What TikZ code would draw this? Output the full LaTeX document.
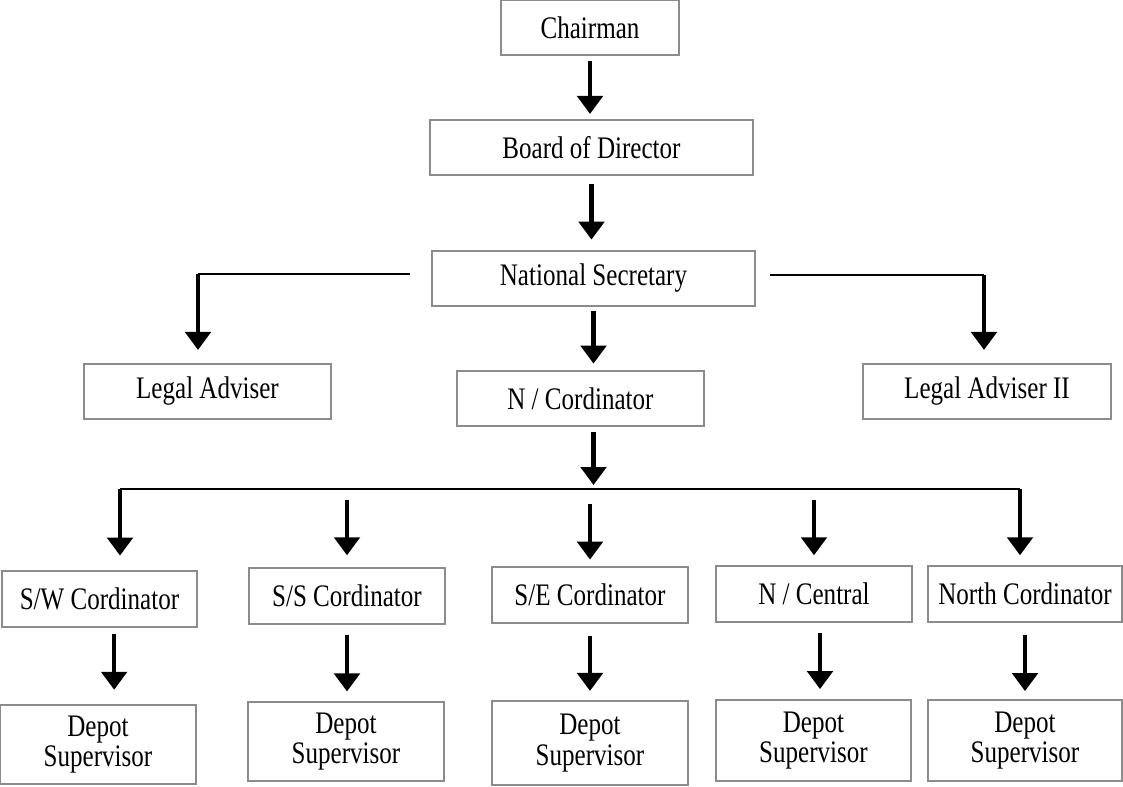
\documentclass[tikz,border=0pt]{standalone}
\usepackage{fontspec}
\setmainfont{Liberation Serif}[FakeStretch=0.8]
\usetikzlibrary{arrows.meta}

\tikzset{
  box/.style={draw=black!45, line width=1.1pt, inner sep=0pt, align=center,
    font=\fontsize{23.5pt}{23pt}\selectfont},
  link/.style={line width=3.2pt, -{Triangle[width=19pt,length=13.5pt]},
    shorten <=6pt, shorten >=7pt},
  wire/.style={line width=1.5pt}
}

\begin{document}
\begin{tikzpicture}[x=0.75pt,y=0.75pt,yscale=-1,xscale=1]
		\useasboundingbox (0,0) rectangle (1123,787);

		% Top of the chart
		\node[box, minimum width=133.5pt, minimum height=41.25pt] (chair) at (590,27.5) {Chairman};
		\node[box, minimum width=242pt, minimum height=41.25pt] (board) at (591.5,147.5) {Board of Director};
		\node[box, minimum width=242pt, minimum height=41.25pt] (natsec) at (593.5,278.5) {National Secretary};

		% Advisers and national coordinator
		\node[box, minimum width=185pt, minimum height=41.25pt] (legal) at (207.5,391.5) {Legal Adviser};
		\node[box, minimum width=185pt, minimum height=41.25pt] (ncord) at (580.5,398.5) {N / Cordinator};
		\node[box, minimum width=186pt, minimum height=41.25pt] (legaltwo) at (987,391.5) {Legal Adviser II};

		% Regional coordinators
		\node[box, minimum width=146pt, minimum height=42pt] (sw) at (99.5,599) {S/W Cordinator};
		\node[box, minimum width=147pt, minimum height=42pt] (ss) at (347,596) {S/S Cordinator};
		\node[box, minimum width=147pt, minimum height=42pt] (se) at (590,595) {S/E Cordinator};
		\node[box, minimum width=147pt, minimum height=42pt] (ncen) at (814,594) {N / Central};
		\node[box, minimum width=145.5pt, minimum height=42pt] (north) at (1025,594) {North Cordinator};

		% Depot supervisors
		\node[box, minimum width=147pt, minimum height=59pt] (swdep) at (98,744.5) {Depot\\Supervisor};
		\node[box, minimum width=147pt, minimum height=59pt] (ssdep) at (346,741.5) {Depot\\Supervisor};
		\node[box, minimum width=147pt, minimum height=63pt] (sedep) at (590,743) {Depot\\Supervisor};
		\node[box, minimum width=146pt, minimum height=61pt] (ncendep) at (813.5,740.5) {Depot\\Supervisor};
		\node[box, minimum width=145.5pt, minimum height=61pt] (northdep) at (1025,740.5) {Depot\\Supervisor};

		% Corners of the branches
		\coordinate (legL) at (198,274);
		\coordinate (legR) at (984,275);
		\coordinate (busL) at (120,489);
		\coordinate (busR) at (1020,489);

		% Main line down the middle
		\draw[link, shorten <=4pt, shorten >=4pt] (chair.south) -- (chair.south |- board.north);
		\draw[link, shorten >=8pt] (board.south) -- (board.south |- natsec.north);
		\draw[link, shorten <=3pt, shorten >=5pt] (natsec.south) -- (natsec.south |- ncord.north);
		\draw[link, shorten <=4pt, shorten >=3pt] (natsec.south |- ncord.south) -- (natsec.south |- busL);

		% Branches to the advisers
		\draw[wire, shorten <=16pt] (natsec.west |- legL) -- (legL);
		\draw[link, shorten <=0pt, shorten >=10pt] (legL) -- (legL |- legal.north);
		\draw[wire, shorten <=10.5pt] (natsec.east |- legR) -- (legR);
		\draw[link, shorten <=0pt, shorten >=10pt] (legR) -- (legR |- legaltwo.north);

		% The bus to the regions
		\draw[wire] (busL) -- (busR);
		\draw[link, shorten <=0pt, shorten >=11pt] (busL) -- (busL |- sw.north);
		\draw[link, shorten <=0pt, shorten >=7.5pt] (busR) -- (busR |- north.north);
		\draw[link, shorten <=8pt, shorten >=9pt] (ss.north |- busL) -- (ss.north);
		\draw[link, shorten <=11pt, shorten >=5pt] (se.north |- busL) -- (se.north);
		\draw[link, shorten <=8pt, shorten >=7.5pt] (ncen.north |- busL) -- (ncen.north);

		% Regions to depots
		\draw[link, shorten <=4.5pt, shorten >=11pt] ([xshift=11pt]sw.south) -- ([xshift=11pt]sw.south |- swdep.north);
		\draw[link, shorten <=8pt, shorten >=7.5pt] (ss.south) -- (ss.south |- ssdep.north);
		\draw[link, shorten <=9pt, shorten >=7pt] (se.south) -- (se.south |- sedep.north);
		\draw[link, shorten <=7.5pt, shorten >=7.5pt] ([xshift=4.5pt]ncen.south) -- ([xshift=4.5pt]ncen.south |- ncendep.north);
		\draw[link, shorten <=9.5pt, shorten >=6pt] (north.south) -- (north.south |- northdep.north);
	\end{tikzpicture}
\end{document}
